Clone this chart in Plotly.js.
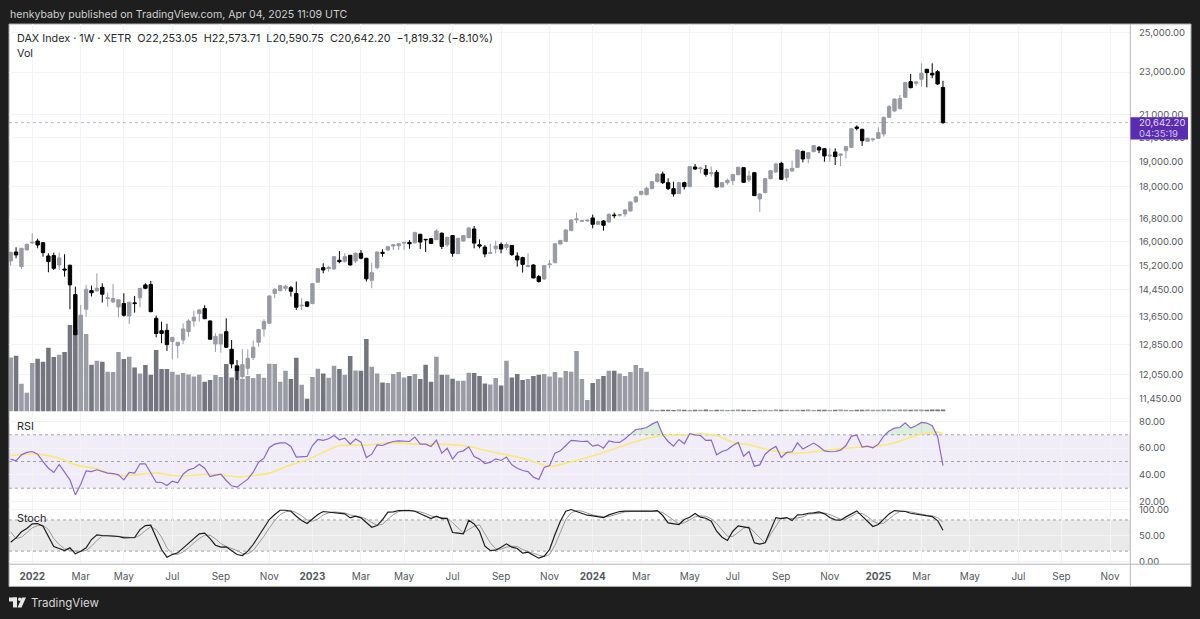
<!DOCTYPE html>
<html>
<head>
<meta charset="utf-8">
<script src="https://cdn.plot.ly/plotly-3.0.1.min.js"></script>
<style>html,body{margin:0;padding:0;background:#1e1e1e}#c{width:1200px;height:619px}</style>
</head>
<body>
<div id="c"></div>
<script>
const firstWeek = '2021-12-06';
const barCount = 174;

const open = [
15362,15659,15176,15727,15962,16030,15973,15527,15538,15230,
15100,15220,14296,13115,13856,14420,14410,14520,14176,14075,
13925,14025,13660,14046,14197,14595,14605,13590,13235,13245,
12930,12820,12975,13208,13513,13728,13875,13513,12865,12865,
13208,12720,12275,11998,12213,12495,12911,13282,13445,14327,
14420,14490,14510,14327,13955,14075,14025,14680,15144,15110,
15102,15383,15350,15548,15361,15614,15450,14741,15145,15647,
15725,15857,15868,15958,15982,15970,16262,16087,16110,16075,
16298,15902,16217,15603,16030,16145,16448,15902,15824,15614,
15770,15913,15813,15880,15526,15472,15177,15230,14857,14783,
15240,15305,15925,16017,16390,16768,16720,16732,16840,16613,
16732,16696,16948,16936,16984,17094,17426,17712,17700,17927,
18197,18498,18158,17927,17737,18158,18004,18777,18709,18682,
18511,18564,17990,18158,18236,18472,18750,18262,18550,17537,
17775,18314,18577,18923,18367,18617,18763,19415,19127,19402,
19582,19526,19223,19388,19250,19442,19582,20451,20349,19834,
19904,19962,20148,20878,21162,21268,21790,22532,22452,22644,
23132,22937,23018,22253.05];

const high = [
15648,15815,15782,15950,16293,16110,15985,15615,15637,15637,
15582,15240,14542,13985,14595,14573,14962,14646,14358,14625,
14136,14337,14066,14256,14490,14646,14720,13670,13494,13435,
13050,12911,13445,13562,13814,13856,13975,13530,13161,13134,
13590,12975,12433,12720,12720,12957,13272,13562,14256,14490,
14595,14595,14563,14700,14187,14096,14636,15122,15285,15198,
15526,15690,15614,15560,15647,15725,15461,15305,15660,15747,
15868,15925,15947,16005,16063,16355,16275,16098,16122,16437,
16332,16170,16240,16145,16240,16505,16552,16087,15890,15947,
16040,15982,15982,15890,15647,15504,15614,15250,14910,15230,
15394,15936,16063,16437,16792,17032,16768,16792,16960,16744,
16768,16996,17032,16984,17155,17438,17650,17838,18004,18223,
18524,18590,18327,18197,18184,18197,18813,18897,18790,18857,
18790,18655,18184,18314,18498,18790,18763,18630,18577,17750,
18340,18655,18950,18990,18709,19032,19498,19442,19388,19680,
19638,19554,19540,19540,19333,19638,20408,20524,20378,19990,
19962,20437,20908,21437,21740,21900,22532,22905,22548,23430,
23165,23430,23099,22573.71];

const low = [
15198,15450,15090,15727,15928,15782,15505,14994,15068,15068,
14856,13856,13105,12611,13640,14238,14390,14055,13935,14036,
13620,13640,13425,13755,13915,14460,13765,13050,12883,12675,
12450,12478,12865,13068,13350,13494,13562,12985,12647,12630,
12755,12213,11913,11955,12040,12433,12792,13068,13425,14187,
14390,14410,14238,13836,13836,13915,14005,14670,14962,15015,
15070,15285,15305,15210,15285,15416,14700,14490,15090,15504,
15702,15725,15725,15725,15770,15947,15758,15660,15936,16063,
15758,15835,15504,15592,16005,16122,15780,15780,15483,15603,
15614,15614,15725,15526,15177,14983,15155,14804,14668,14751,
15122,15285,15925,16005,16367,16649,16696,16708,16470,16590,
16390,16672,16828,16888,16888,17070,17400,17675,17675,17900,
18171,18107,17875,17625,17725,17900,17990,18655,18524,18393,
18393,17978,17978,18081,18068,18446,18145,18184,17650,17056,
17750,18288,18550,18262,18210,18590,18736,18965,18923,19375,
19333,18990,18990,18857,18813,19127,19554,20305,19638,19820,
19820,19933,20034,20848,21132,21237,21760,22213,22325,22293,
22260,22693,22372,20590.75];

const close = [
15648,15560,15782,15916,15985,15894,15637,15340,15122,15461,
15068,14595,13124,13640,14460,14350,14490,14307,14197,14176,
14136,13680,14066,14025,14490,14490,13785,13155,13155,12847,
13050,12911,13282,13513,13620,13836,13580,12995,13075,13134,
12775,12328,12153,12310,12478,12775,13272,13494,14256,14460,
14573,14552,14400,13915,13975,13945,14636,15110,15068,15155,
15504,15340,15504,15230,15614,15450,14785,14983,15660,15614,
15835,15902,15936,15982,15936,16320,15993,16075,15947,16378,
15846,16158,15614,16122,16217,16482,15958,15857,15592,15636,
15857,15758,15913,15570,15394,15250,15210,14815,14700,15210,
15262,15936,16051,16413,16768,16804,16744,16756,16613,16708,
16578,16972,16924,16960,17130,17425,17612,17825,17940,18197,
18498,18158,17927,17725,18158,18004,18790,18695,18736,18485,
18550,17990,18158,18249,18472,18763,18171,18419,17662,17725,
18314,18630,18897,18288,18682,18722,19470,19100,19360,19652,
19470,19223,19250,19196,19305,19610,20378,20393,19862,19962,
19933,20206,20878,21360,21710,21740,22484,22244,22516,22937,
22970,22856,22420,20642.20];

const volume = [
162,167,83,56,145,158,149,191,163,170,
178,259,245,290,232,140,152,149,119,118,
178,157,164,132,114,139,110,184,127,127,
119,110,115,111,105,110,89,94,109,103,
142,102,138,98,106,100,112,101,143,142,
89,122,97,161,80,38,103,128,114,101,
137,127,110,166,123,122,217,134,114,87,
85,112,118,102,106,112,97,140,89,164,
110,110,98,92,92,116,115,106,84,81,
100,78,152,102,112,94,97,106,110,112,
105,118,102,121,119,181,97,34,85,97,
106,122,122,114,106,118,139,130,119,5,
4,5,5,4,6,5,4,5,5,6,
4,5,5,4,5,6,5,5,4,5,
5,4,6,5,5,4,5,5,6,4,
5,5,4,5,6,5,4,5,5,6,
5,5,6,6,5,6,6,5,6,6,
5,6,6,6];

const rsi = [
51.8,50.5,55,56.8,57.5,55.5,50,45,41.8,47.8,
42,36.3,25,33,43,42.5,43.8,42.5,41.3,41,
40,36.3,41.8,41.3,48.3,48.3,41.3,34.5,34.3,32,
35.3,34,40.5,43.8,45,48,45,38.8,39.8,40.5,
35.8,31.8,30.8,33.8,36.8,42,49.5,52.5,60.5,63,
64,64,61.3,53.3,53.8,53.8,62,66.5,65.8,67,
69.5,66.3,67.5,63,66.8,64.5,53,55.5,62.5,62,
63.8,65,65.5,65.5,65,68.3,63,63,61.3,66,
56.3,60,51.8,57,58,61,53.8,51.8,48.5,49.3,
52,50.8,53.3,47.5,45,43.3,42.5,38.3,36.5,45.5,
47,56.3,58,62,65.8,65.5,65,65.3,61.5,62.5,
60,65.5,64.5,64.3,67,70.5,74,74.5,75.5,78,
80,70,65,61.5,66.5,63.3,70.8,70,69.5,65.8,
66,55,57.5,58.8,62,64.3,54,57.5,46.5,47.5,
55.5,59,61.3,53,56.8,57.3,64,59.3,61.5,63.8,
61.3,58,57.3,57.5,58.5,62,69,69.8,60.8,61.5,
60.3,63,69,72.8,75,75.5,79,75,76.8,79.3,
78.8,76.8,68.8,47];

const rsiMaBars = [0,4,6,9,12,16,19,21,25,27,30,33,36,39,42,44,48,52,55,59,61,66,70,72,76,80,85,89,92,96,100,103,107,110,113,116,121,126,128,131,134,137,140,144,148,155,160,163,164,168,170,172,173];
const rsiMa = [54.5,55.8,55,52.5,47.5,44.5,40.5,39.3,40.8,41.5,39.5,39.3,40.5,40,38.5,39,41.3,47.5,51.3,58.8,62,62.3,63.8,63.8,63,63,61.3,57.5,55,51.3,46.3,48.8,53,56.8,61,65,69.5,70,70.8,69.5,64.5,62.5,59.3,56.3,56.8,60,61.3,63,64,69.5,71.3,72,71];

const stochK = [
37.2,45.5,57.1,63.5,72.4,73.1,67.9,48.7,28.8,25,
21.2,26.3,14.7,19.9,26.3,42.3,51.3,50,49.4,49.4,
48.1,45.5,45.5,46.2,61.5,69.2,69.9,45.5,23.1,8.3,
13.5,16.7,26.3,34.6,45.5,53.2,54.5,44.2,31.4,27.6,
28.2,21.2,13.5,11.5,19.9,32.7,48.7,64.7,80.8,90.4,
98.7,98.7,96.8,87.2,78.8,73.1,82.7,90.4,96.2,94.9,
94.9,93.6,91.7,84,87.2,84,74.4,66,69.2,80.8,
94.9,95.5,98.1,98.7,98.1,96.8,92.3,87.2,82.7,87.2,
82.7,82.7,55.8,54.5,53.2,79.5,72.4,58.3,29.5,21.2,
21.8,27.6,34,27.6,25,16,17.9,12.2,6.4,10.3,
23.1,52,77.6,96.8,100,96.2,92.9,89.1,87.8,85.9,
84.6,89.7,93.6,96.2,96.8,96.8,96.8,97.4,96.2,96.8,
98.1,88.5,74.4,72.4,71.2,80.8,85.3,92.3,85.3,83.3,
77.6,58.3,46.8,40.4,58.3,68.6,66.7,64.7,35.9,33.3,
35.9,61.5,84.6,82.7,84.6,78.8,89.7,90.4,92.9,93.6,
95.5,91.7,84.6,80.1,79.5,85.9,92.3,97.4,87.2,76.3,
67.3,71.2,82,91.7,98.1,97.4,96.2,92.9,91,89.1,
88.5,86.5,78.8,60.3];

const stochD = [
57.1,44.2,46.8,55.1,64.7,69.2,69.9,61.5,44.2,32.7,
24.4,21.8,19.9,19.9,21.2,29.5,40.4,48.7,50,49.4,
48.7,47.4,46.2,45.5,50.6,59.6,66.7,61.5,46.8,26.3,
14.7,13.5,18.6,26.3,35.9,44.2,50.6,50.6,43.6,34.6,
28.8,25,21.2,15.4,14.7,21.2,34,48.7,64.7,78.8,
90.4,95.5,98.1,94.2,87.8,80.1,77.6,82,89.7,93.6,
95.5,94.2,93.6,89.7,87.8,85.3,82,75,69.9,71.8,
81.4,90.4,96.2,98.7,98.7,97.4,95.5,92.3,87.8,85.3,
85.3,84,74.4,64.7,55.1,61.5,67.9,70.5,53.2,35.9,
24.4,23.7,27.6,29.5,28.8,23.1,19.2,15.4,12.2,9.6,
13.5,31.4,57.1,80.8,93.6,98.1,96.8,92.9,89.7,87.8,
85.9,86.5,89.1,92.9,95.5,96.2,96.8,96.8,96.8,96.2,
96.8,94.2,87.2,78.8,72.4,74.4,79.5,85.9,87.8,87.2,
82,73.1,60.9,48.7,48.1,55.8,64.1,66.7,55.8,44.9,
35.3,51.9,68.6,84,83.3,82.7,84,85.9,91,92.3,
93.6,93.6,90.4,85.3,81.4,81.4,86.5,92.9,92.3,86.5,
77.6,73.1,73.7,81.4,90.4,96.2,96.8,95.5,92.9,91,
89.1,87.8,84.6,75.6];

const priceTicks = [25000,23000,21000,20000,19000,18000,16800,16000,15200,14450,13650,12850,12050,11450];
const priceTickText = ['25,000.00','23,000.00','21,000.00','20,000.00','19,000.00','18,000.00','16,800.00','16,000.00','15,200.00','14,450.00','13,650.00','12,850.00','12,050.00','11,450.00'];
const rsiTicks = [80,60,40,20];
const rsiTickText = ['80.00','60.00','40.00','20.00'];
const stochTicks = [100,50,0];
const stochTickText = ['100.00','50.00','0.00'];
const timeTicks = ['2022-01-03','2022-03-07','2022-05-02','2022-07-04','2022-09-05','2022-11-07','2023-01-02','2023-03-06','2023-05-01','2023-07-03','2023-09-04','2023-11-06','2024-01-01','2024-03-04','2024-05-06','2024-07-01','2024-09-02','2024-11-04','2025-01-06','2025-03-03','2025-05-05','2025-07-07','2025-09-01','2025-11-03'];
const timeLabels = ['<b>2022</b>','Mar','May','Jul','Sep','Nov','<b>2023</b>','Mar','May','Jul','Sep','Nov','<b>2024</b>','Mar','May','Jul','Sep','Nov','<b>2025</b>','Mar','May','Jul','Sep','Nov'];

const headerText = 'henkybaby published on TradingView.com, Apr 04, 2025 11:09 UTC';
const legendText = 'DAX Index · 1W · XETR&nbsp;&nbsp;O22,253.05&nbsp;&nbsp;H22,573.71&nbsp;&nbsp;L20,590.75&nbsp;&nbsp;C20,642.20&nbsp;&nbsp;−1,819.32 (−8.10%)';
const lastPrice = 20642.20;
const lastPriceText = '20,642.20';
const countdownText = '04:35:19';

const weeks = [];
{
  const d0 = new Date(firstWeek + 'T00:00:00Z').getTime();
  for (let i = 0; i < barCount; i++) weeks.push(new Date(d0 + i * 604800000).toISOString().slice(0, 10));
}

const W = 1200, H = 619, L = 9, R = 1130, T = 24, B = 564.5;
const px = x => (x - L) / (R - L);
const py = y => (B - y) / (B - T);
const FONT = 'Inter, "Liberation Sans", sans-serif';
const GRID = '#f2f3f4', AXIS = '#b4b6bc', TICK = '#55575f';
const UP = '#989aa4', DOWN = '#000000';
const VOL_UP = '#999ba5', VOL_DOWN = '#73757f';

const traces = [
  { type: 'bar', x: weeks, y: volume, xaxis: 'x', yaxis: 'y4',
    marker: { color: close.map((c, i) => c < open[i] ? VOL_DOWN : VOL_UP), line: { width: 0 } } },
  { type: 'candlestick', x: weeks, open, high, low, close, xaxis: 'x', yaxis: 'y',
    whiskerwidth: 0,
    increasing: { line: { color: UP, width: 1 }, fillcolor: UP },
    decreasing: { line: { color: DOWN, width: 1 }, fillcolor: DOWN } },
  { type: 'scatter', mode: 'lines', x: weeks, y: rsi.map(() => 70), xaxis: 'x', yaxis: 'y2',
    line: { width: 0, color: 'rgba(0,0,0,0)' } },
  { type: 'scatter', mode: 'lines', x: weeks, y: rsi.map(v => Math.max(v, 70)), xaxis: 'x', yaxis: 'y2',
    fill: 'tonexty', fillcolor: 'rgba(76,175,80,0.2)', line: { width: 0, color: 'rgba(0,0,0,0)' } },
  { type: 'scatter', mode: 'lines', x: rsiMaBars.map(i => weeks[i]), y: rsiMa, xaxis: 'x', yaxis: 'y2',
    line: { color: '#fbe77c', width: 1.6, shape: 'spline', smoothing: 0.6 } },
  { type: 'scatter', mode: 'lines', x: weeks, y: rsi, xaxis: 'x', yaxis: 'y2',
    line: { color: '#8a68cc', width: 1.2 } },
  { type: 'scatter', mode: 'lines', x: weeks, y: stochD, xaxis: 'x', yaxis: 'y3',
    line: { color: '#9a9a9e', width: 1 } },
  { type: 'scatter', mode: 'lines', x: weeks, y: stochK, xaxis: 'x', yaxis: 'y3',
    line: { color: '#1c1c1c', width: 1.2 } }
];

const yBase = {
  anchor: 'x', side: 'right', tickmode: 'array', showgrid: true, gridcolor: GRID, gridwidth: 1,
  zeroline: false, showline: false, ticks: '', ticklabelstandoff: 8,
  tickfont: { family: FONT, size: 9.5, color: TICK }, fixedrange: true
};
const priceDomain = [py(411.8), 1], rsiDomain = [py(503.5), py(411.8)], stochDomain = [0, py(503.5)];

const band = (yref, y0, y1, fill) => ({ type: 'rect', layer: 'below', xref: 'paper', x0: 0, x1: 1, yref, y0, y1, fillcolor: fill, line: { width: 0 } });
const hline = (yref, y) => ({ type: 'line', layer: 'below', xref: 'paper', x0: 0, x1: 1, yref, y0: y, y1: y, line: { color: '#a2a3a8', width: 1, dash: '3px,3px' } });
const note = (x, y, text, size, color, extra) => Object.assign({ xref: 'paper', yref: 'paper', x: px(x - 1.5), y: py(y), text, showarrow: false, xanchor: 'left', yanchor: 'middle', align: 'left', font: { family: FONT, size, color } }, extra || {});

const layout = {
  width: W, height: H,
  margin: { l: L, r: W - R, t: T, b: H - B, pad: 0 },
  paper_bgcolor: '#1e1e1e', plot_bgcolor: '#ffffff',
  showlegend: false, hovermode: false, dragmode: false,
  bargap: 0.16, boxgap: 0.2, boxgroupgap: 0.22,
  xaxis: { type: 'date', anchor: 'y3', range: ['2021-12-03 20:00', '2025-11-28 22:00'],
    tickmode: 'array', tickvals: timeTicks, ticktext: timeLabels, ticks: '', ticklabelstandoff: 5,
    showgrid: true, gridcolor: GRID, gridwidth: 1, zeroline: false, showline: false,
    rangeslider: { visible: false }, fixedrange: true,
    tickfont: { family: FONT, size: 10, color: TICK } },
  yaxis4: { domain: priceDomain, range: [0, 1162.5], visible: false, anchor: 'x', fixedrange: true },
  yaxis: Object.assign({}, yBase, { domain: priceDomain, overlaying: 'y4', type: 'log',
    range: [Math.log10(11138), Math.log10(25485)], tickvals: priceTicks, ticktext: priceTickText }),
  yaxis2: Object.assign({}, yBase, { domain: rsiDomain, range: [18.9, 87.5], tickvals: rsiTicks, ticktext: rsiTickText }),
  yaxis3: Object.assign({}, yBase, { domain: stochDomain, range: [-4.8, 112.5], tickvals: stochTicks, ticktext: stochTickText }),
  shapes: [
    { type: 'rect', layer: 'below', xref: 'paper', yref: 'paper', x0: px(9), x1: px(1191), y0: py(587), y1: py(24), fillcolor: '#ffffff', line: { color: '#a9a9ad', width: 1 } },
    band('y2', 30, 70, 'rgba(126,87,194,0.11)'),
    hline('y2', 70), hline('y2', 50), hline('y2', 30),
    band('y3', 20, 80, 'rgba(60,60,70,0.11)'),
    hline('y3', 80), hline('y3', 20),
    { type: 'line', layer: 'above', xref: 'paper', x0: 0, x1: 1, yref: 'y', y0: lastPrice, y1: lastPrice, line: { color: 'rgba(94,47,176,0.38)', width: 1, dash: 'dot' } },
    { type: 'line', layer: 'above', xref: 'paper', yref: 'paper', x0: px(1130.3), x1: px(1130.3), y0: py(587), y1: py(24), line: { color: AXIS, width: 1 } },
    { type: 'line', layer: 'above', xref: 'paper', yref: 'paper', x0: px(9), x1: px(1191), y0: py(564.7), y1: py(564.7), line: { color: AXIS, width: 1 } },
    { type: 'rect', layer: 'above', xref: 'paper', yref: 'paper', x0: px(1130.5), x1: px(1188), y0: py(139.5), y1: py(117.3), fillcolor: '#5a2db0', line: { width: 0 } },
    { type: 'rect', layer: 'above', xref: 'paper', yref: 'paper', x0: px(9), x1: px(17), y0: py(602), y1: py(598), fillcolor: '#e8e8e8', line: { width: 0 } },
    { type: 'rect', layer: 'above', xref: 'paper', yref: 'paper', x0: px(13), x1: px(17), y0: py(608), y1: py(598), fillcolor: '#e8e8e8', line: { width: 0 } },
    { type: 'circle', layer: 'above', xref: 'paper', yref: 'paper', x0: px(18), x1: px(21.5), y0: py(601.5), y1: py(598), fillcolor: '#e8e8e8', line: { width: 0 } },
    { type: 'path', layer: 'above', xref: 'paper', yref: 'paper', path: `M ${px(22)} ${py(598)} L ${px(26)} ${py(598)} L ${px(21.5)} ${py(608)} L ${px(17.5)} ${py(608)} Z`, fillcolor: '#e8e8e8', line: { width: 0 } }
  ],
  annotations: [
    note(9, 14, headerText, 10.6, '#cfcfcf'),
    note(16, 38.5, legendText, 10.8, '#26272c'),
    note(16, 54, 'Vol', 10.8, '#26272c'),
    note(16, 427, 'RSI', 10.8, '#26272c'),
    note(16, 518.5, 'Stoch', 10.8, '#26272c'),
    note(1138.5, 122.5, lastPriceText, 9.5, '#e4dcf6'),
    note(1138.5, 133.5, countdownText, 9.5, '#d3c6ef'),
    note(30, 604, 'TradingView', 11.5, '#d8d8d8')
  ]
};

Plotly.newPlot('c', traces, layout, { displayModeBar: false, staticPlot: true });
</script>
</body>
</html>
